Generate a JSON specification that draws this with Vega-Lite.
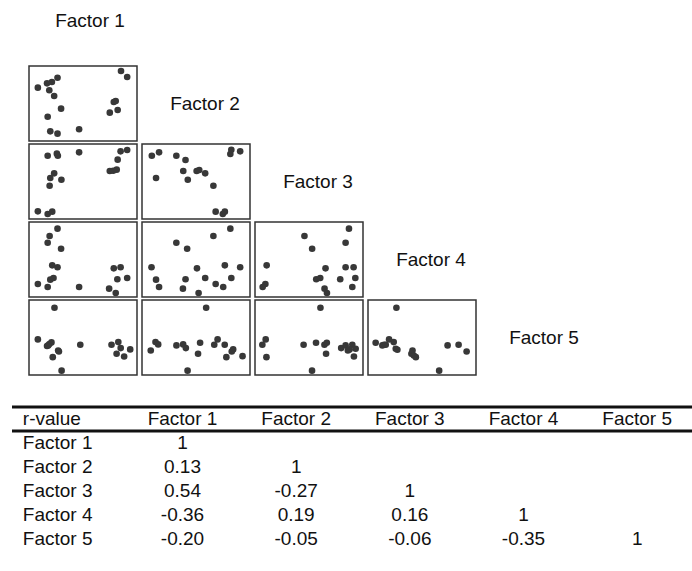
{
  "$schema": "https://vega.github.io/schema/vega-lite/v6.json",
  "padding": {"left": 10, "top": 3, "right": 0, "bottom": 0},
  "background": "white",
  "config": {"view": {"stroke": null}, "text": {"font": "Liberation Sans", "fontSize": 19, "color": "#111"}},
  "datasets": {
    "pts": [
      {"p":"2-1","x":85.2,"y":93.3},{"p":"2-1","x":90.9,"y":85.3},{"p":"2-1","x":8.2,"y":71.1},{"p":"2-1","x":16.7,"y":76.9},{"p":"2-1","x":21.2,"y":78.7},{"p":"2-1","x":26.4,"y":84.4},{"p":"2-1","x":18.8,"y":67.6},{"p":"2-1","x":23.3,"y":60.0},{"p":"2-1","x":29.7,"y":43.1},{"p":"2-1","x":17.3,"y":32.4},{"p":"2-1","x":19.7,"y":12.9},{"p":"2-1","x":26.4,"y":9.8},{"p":"2-1","x":46.4,"y":15.6},{"p":"2-1","x":78.5,"y":52.0},{"p":"2-1","x":80.3,"y":53.3},{"p":"2-1","x":74.8,"y":37.8},{"p":"2-1","x":82.1,"y":41.3},
      {"p":"3-1","x":17.3,"y":84.4},{"p":"3-1","x":25.8,"y":87.1},{"p":"3-1","x":26.7,"y":84.4},{"p":"3-1","x":46.4,"y":88.9},{"p":"3-1","x":84.8,"y":90.2},{"p":"3-1","x":90.9,"y":92.0},{"p":"3-1","x":82.1,"y":79.1},{"p":"3-1","x":74.8,"y":64.0},{"p":"3-1","x":77.9,"y":64.4},{"p":"3-1","x":81.2,"y":65.8},{"p":"3-1","x":23.3,"y":60.9},{"p":"3-1","x":19.7,"y":54.7},{"p":"3-1","x":30.0,"y":52.4},{"p":"3-1","x":19.1,"y":44.4},{"p":"3-1","x":8.2,"y":10.2},{"p":"3-1","x":17.3,"y":6.7},{"p":"3-1","x":21.5,"y":9.8},
      {"p":"3-2","x":9.1,"y":84.4},{"p":"3-2","x":15.8,"y":88.9},{"p":"3-2","x":31.8,"y":84.4},{"p":"3-2","x":40.3,"y":78.7},{"p":"3-2","x":38.2,"y":64.0},{"p":"3-2","x":50.6,"y":64.0},{"p":"3-2","x":53.0,"y":65.3},{"p":"3-2","x":58.5,"y":60.9},{"p":"3-2","x":42.4,"y":52.4},{"p":"3-2","x":13.0,"y":54.7},{"p":"3-2","x":66.1,"y":44.4},{"p":"3-2","x":82.7,"y":92.4},{"p":"3-2","x":81.8,"y":86.7},{"p":"3-2","x":90.9,"y":90.2},{"p":"3-2","x":68.2,"y":9.8},{"p":"3-2","x":74.8,"y":6.7},{"p":"3-2","x":76.7,"y":9.8},
      {"p":"4-1","x":26.4,"y":91.1},{"p":"4-1","x":19.1,"y":81.3},{"p":"4-1","x":17.3,"y":72.4},{"p":"4-1","x":29.7,"y":64.4},{"p":"4-1","x":21.5,"y":42.2},{"p":"4-1","x":26.4,"y":39.6},{"p":"4-1","x":78.5,"y":38.2},{"p":"4-1","x":84.8,"y":39.6},{"p":"4-1","x":81.8,"y":23.6},{"p":"4-1","x":90.9,"y":25.3},{"p":"4-1","x":19.7,"y":23.1},{"p":"4-1","x":22.7,"y":25.3},{"p":"4-1","x":8.2,"y":17.3},{"p":"4-1","x":17.3,"y":13.3},{"p":"4-1","x":46.4,"y":13.3},{"p":"4-1","x":74.2,"y":11.1},{"p":"4-1","x":80.3,"y":5.3},
      {"p":"4-2","x":81.8,"y":91.1},{"p":"4-2","x":66.1,"y":81.3},{"p":"4-2","x":31.8,"y":72.4},{"p":"4-2","x":41.8,"y":64.4},{"p":"4-2","x":8.8,"y":39.6},{"p":"4-2","x":50.9,"y":38.2},{"p":"4-2","x":76.7,"y":42.2},{"p":"4-2","x":90.9,"y":39.6},{"p":"4-2","x":13.0,"y":23.1},{"p":"4-2","x":15.8,"y":13.3},{"p":"4-2","x":40.3,"y":23.6},{"p":"4-2","x":58.5,"y":25.3},{"p":"4-2","x":82.7,"y":25.3},{"p":"4-2","x":68.2,"y":17.3},{"p":"4-2","x":75.2,"y":13.3},{"p":"4-2","x":37.9,"y":11.1},{"p":"4-2","x":52.4,"y":5.3},
      {"p":"4-3","x":87.0,"y":91.1},{"p":"4-3","x":45.8,"y":81.3},{"p":"4-3","x":83.9,"y":72.4},{"p":"4-3","x":52.9,"y":64.4},{"p":"4-3","x":10.8,"y":42.2},{"p":"4-3","x":83.9,"y":39.6},{"p":"4-3","x":65.3,"y":38.2},{"p":"4-3","x":91.3,"y":39.6},{"p":"4-3","x":56.7,"y":23.6},{"p":"4-3","x":60.4,"y":25.3},{"p":"4-3","x":78.9,"y":23.6},{"p":"4-3","x":92.9,"y":25.3},{"p":"4-3","x":9.6,"y":17.3},{"p":"4-3","x":7.1,"y":13.3},{"p":"4-3","x":90.1,"y":13.3},{"p":"4-3","x":64.4,"y":11.1},{"p":"4-3","x":66.6,"y":5.3},
      {"p":"5-1","x":23.6,"y":89.7},{"p":"5-1","x":8.2,"y":47.5},{"p":"5-1","x":16.7,"y":38.6},{"p":"5-1","x":18.9,"y":41.3},{"p":"5-1","x":20.8,"y":43.5},{"p":"5-1","x":17.8,"y":39.5},{"p":"5-1","x":27.0,"y":32.7},{"p":"5-1","x":27.7,"y":31.4},{"p":"5-1","x":22.0,"y":23.8},{"p":"5-1","x":30.2,"y":5.8},{"p":"5-1","x":47.5,"y":40.4},{"p":"5-1","x":76.4,"y":40.4},{"p":"5-1","x":82.7,"y":43.9},{"p":"5-1","x":84.9,"y":35.9},{"p":"5-1","x":81.1,"y":28.3},{"p":"5-1","x":88.1,"y":24.7},{"p":"5-1","x":93.7,"y":34.1},
      {"p":"5-2","x":59.4,"y":89.7},{"p":"5-2","x":12.5,"y":43.9},{"p":"5-2","x":15.0,"y":40.8},{"p":"5-2","x":8.1,"y":32.7},{"p":"5-2","x":31.9,"y":39.5},{"p":"5-2","x":38.1,"y":40.8},{"p":"5-2","x":40.6,"y":35.9},{"p":"5-2","x":53.8,"y":43.0},{"p":"5-2","x":51.9,"y":28.3},{"p":"5-2","x":70.0,"y":47.5},{"p":"5-2","x":66.9,"y":40.4},{"p":"5-2","x":76.6,"y":40.4},{"p":"5-2","x":84.4,"y":34.1},{"p":"5-2","x":83.1,"y":31.4},{"p":"5-2","x":78.1,"y":23.8},{"p":"5-2","x":93.1,"y":25.1},{"p":"5-2","x":42.2,"y":5.8},
      {"p":"5-3","x":60.6,"y":89.7},{"p":"5-3","x":9.9,"y":47.5},{"p":"5-3","x":6.8,"y":40.4},{"p":"5-3","x":10.6,"y":23.8},{"p":"5-3","x":45.0,"y":40.4},{"p":"5-3","x":56.5,"y":43.0},{"p":"5-3","x":64.3,"y":40.4},{"p":"5-3","x":66.5,"y":43.0},{"p":"5-3","x":65.8,"y":28.3},{"p":"5-3","x":52.8,"y":5.8},{"p":"5-3","x":79.8,"y":35.9},{"p":"5-3","x":83.9,"y":39.5},{"p":"5-3","x":86.0,"y":32.7},{"p":"5-3","x":90.1,"y":40.4},{"p":"5-3","x":87.6,"y":34.1},{"p":"5-3","x":93.2,"y":35.0},{"p":"5-3","x":91.6,"y":24.7},
      {"p":"5-4","x":26.3,"y":89.7},{"p":"5-4","x":7.1,"y":43.0},{"p":"5-4","x":13.3,"y":39.5},{"p":"5-4","x":14.9,"y":40.4},{"p":"5-4","x":19.5,"y":47.5},{"p":"5-4","x":23.8,"y":43.9},{"p":"5-4","x":25.7,"y":35.0},{"p":"5-4","x":27.2,"y":33.6},{"p":"5-4","x":41.2,"y":32.7},{"p":"5-4","x":40.2,"y":28.3},{"p":"5-4","x":42.4,"y":26.0},{"p":"5-4","x":44.3,"y":23.8},{"p":"5-4","x":73.7,"y":39.5},{"p":"5-4","x":83.9,"y":40.4},{"p":"5-4","x":91.3,"y":31.4},{"p":"5-4","x":65.9,"y":5.8},{"p":"5-4","x":16.4,"y":40.4}
    ],
    "tbl": [
      {"r":"h","c":"c0","t":"r-value"},{"r":"h","c":"c1","t":"Factor 1"},{"r":"h","c":"c2","t":"Factor 2"},{"r":"h","c":"c3","t":"Factor 3"},{"r":"h","c":"c4","t":"Factor 4"},{"r":"h","c":"c5","t":"Factor 5"},
      {"r":"1","c":"c0","t":"Factor 1"},{"r":"1","c":"c1","t":"1"},
      {"r":"2","c":"c0","t":"Factor 2"},{"r":"2","c":"c1","t":"0.13"},{"r":"2","c":"c2","t":"1"},
      {"r":"3","c":"c0","t":"Factor 3"},{"r":"3","c":"c1","t":"0.54"},{"r":"3","c":"c2","t":"-0.27"},{"r":"3","c":"c3","t":"1"},
      {"r":"4","c":"c0","t":"Factor 4"},{"r":"4","c":"c1","t":"-0.36"},{"r":"4","c":"c2","t":"0.19"},{"r":"4","c":"c3","t":"0.16"},{"r":"4","c":"c4","t":"1"},
      {"r":"5","c":"c0","t":"Factor 5"},{"r":"5","c":"c1","t":"-0.20"},{"r":"5","c":"c2","t":"-0.05"},{"r":"5","c":"c3","t":"-0.06"},{"r":"5","c":"c4","t":"-0.35"},{"r":"5","c":"c5","t":"1"}
    ],
    "lines": [{"r":"h"},{"r":"1"}]
  },
  "spacing": 29,
  "vconcat": [
    {
      "spacing": 1,
      "vconcat": [
        {"spacing": 3, "hconcat": [
          {"width": 13, "height": 61, "data": {"values": [{"t": ""}]}, "mark": "text", "encoding": {"text": {"field": "t"}}},
          {"width": 108, "height": 61, "data": {"values": [{"t": "Factor 1"}]}, "mark": {"type": "text", "dx": 8, "dy": -13}, "encoding": {"text": {"field": "t"}}}
        ]},
        {"spacing": 3, "hconcat": [
          {"width": 13, "height": 75, "data": {"values": [{"t": ""}]}, "mark": "text", "encoding": {"text": {"field": "t"}}},
          {"width": 108, "height": 75, "view": {"stroke": "#333", "strokeWidth": 1.5}, "data": {"name": "pts"}, "transform": [{"filter": "datum.p == '2-1'"}], "mark": {"type": "circle", "size": 44, "color": "#383838", "opacity": 1}, "encoding": {"x": {"field": "x", "type": "quantitative", "scale": {"domain": [0, 100], "nice": false, "zero": false}, "axis": null}, "y": {"field": "y", "type": "quantitative", "scale": {"domain": [0, 100], "nice": false, "zero": false}, "axis": null}}},
          {"width": 108, "height": 75, "data": {"values": [{"t": "Factor 2"}]}, "mark": {"type": "text", "dx": 10}, "encoding": {"text": {"field": "t"}}}
        ]},
        {"spacing": 3, "hconcat": [
          {"width": 13, "height": 75, "data": {"values": [{"t": ""}]}, "mark": "text", "encoding": {"text": {"field": "t"}}},
          {"width": 108, "height": 75, "view": {"stroke": "#333", "strokeWidth": 1.5}, "data": {"name": "pts"}, "transform": [{"filter": "datum.p == '3-1'"}], "mark": {"type": "circle", "size": 44, "color": "#383838", "opacity": 1}, "encoding": {"x": {"field": "x", "type": "quantitative", "scale": {"domain": [0, 100], "nice": false, "zero": false}, "axis": null}, "y": {"field": "y", "type": "quantitative", "scale": {"domain": [0, 100], "nice": false, "zero": false}, "axis": null}}},
          {"width": 108, "height": 75, "view": {"stroke": "#333", "strokeWidth": 1.5}, "data": {"name": "pts"}, "transform": [{"filter": "datum.p == '3-2'"}], "mark": {"type": "circle", "size": 44, "color": "#383838", "opacity": 1}, "encoding": {"x": {"field": "x", "type": "quantitative", "scale": {"domain": [0, 100], "nice": false, "zero": false}, "axis": null}, "y": {"field": "y", "type": "quantitative", "scale": {"domain": [0, 100], "nice": false, "zero": false}, "axis": null}}},
          {"width": 108, "height": 75, "data": {"values": [{"t": "Factor 3"}]}, "mark": {"type": "text", "dx": 10}, "encoding": {"text": {"field": "t"}}}
        ]},
        {"spacing": 3, "hconcat": [
          {"width": 13, "height": 75, "data": {"values": [{"t": ""}]}, "mark": "text", "encoding": {"text": {"field": "t"}}},
          {"width": 108, "height": 75, "view": {"stroke": "#333", "strokeWidth": 1.5}, "data": {"name": "pts"}, "transform": [{"filter": "datum.p == '4-1'"}], "mark": {"type": "circle", "size": 44, "color": "#383838", "opacity": 1}, "encoding": {"x": {"field": "x", "type": "quantitative", "scale": {"domain": [0, 100], "nice": false, "zero": false}, "axis": null}, "y": {"field": "y", "type": "quantitative", "scale": {"domain": [0, 100], "nice": false, "zero": false}, "axis": null}}},
          {"width": 108, "height": 75, "view": {"stroke": "#333", "strokeWidth": 1.5}, "data": {"name": "pts"}, "transform": [{"filter": "datum.p == '4-2'"}], "mark": {"type": "circle", "size": 44, "color": "#383838", "opacity": 1}, "encoding": {"x": {"field": "x", "type": "quantitative", "scale": {"domain": [0, 100], "nice": false, "zero": false}, "axis": null}, "y": {"field": "y", "type": "quantitative", "scale": {"domain": [0, 100], "nice": false, "zero": false}, "axis": null}}},
          {"width": 108, "height": 75, "view": {"stroke": "#333", "strokeWidth": 1.5}, "data": {"name": "pts"}, "transform": [{"filter": "datum.p == '4-3'"}], "mark": {"type": "circle", "size": 44, "color": "#383838", "opacity": 1}, "encoding": {"x": {"field": "x", "type": "quantitative", "scale": {"domain": [0, 100], "nice": false, "zero": false}, "axis": null}, "y": {"field": "y", "type": "quantitative", "scale": {"domain": [0, 100], "nice": false, "zero": false}, "axis": null}}},
          {"width": 108, "height": 75, "data": {"values": [{"t": "Factor 4"}]}, "mark": {"type": "text", "dx": 10}, "encoding": {"text": {"field": "t"}}}
        ]},
        {"spacing": 3, "hconcat": [
          {"width": 13, "height": 75, "data": {"values": [{"t": ""}]}, "mark": "text", "encoding": {"text": {"field": "t"}}},
          {"width": 108, "height": 75, "view": {"stroke": "#333", "strokeWidth": 1.5}, "data": {"name": "pts"}, "transform": [{"filter": "datum.p == '5-1'"}], "mark": {"type": "circle", "size": 44, "color": "#383838", "opacity": 1}, "encoding": {"x": {"field": "x", "type": "quantitative", "scale": {"domain": [0, 100], "nice": false, "zero": false}, "axis": null}, "y": {"field": "y", "type": "quantitative", "scale": {"domain": [0, 100], "nice": false, "zero": false}, "axis": null}}},
          {"width": 108, "height": 75, "view": {"stroke": "#333", "strokeWidth": 1.5}, "data": {"name": "pts"}, "transform": [{"filter": "datum.p == '5-2'"}], "mark": {"type": "circle", "size": 44, "color": "#383838", "opacity": 1}, "encoding": {"x": {"field": "x", "type": "quantitative", "scale": {"domain": [0, 100], "nice": false, "zero": false}, "axis": null}, "y": {"field": "y", "type": "quantitative", "scale": {"domain": [0, 100], "nice": false, "zero": false}, "axis": null}}},
          {"width": 108, "height": 75, "view": {"stroke": "#333", "strokeWidth": 1.5}, "data": {"name": "pts"}, "transform": [{"filter": "datum.p == '5-3'"}], "mark": {"type": "circle", "size": 44, "color": "#383838", "opacity": 1}, "encoding": {"x": {"field": "x", "type": "quantitative", "scale": {"domain": [0, 100], "nice": false, "zero": false}, "axis": null}, "y": {"field": "y", "type": "quantitative", "scale": {"domain": [0, 100], "nice": false, "zero": false}, "axis": null}}},
          {"width": 108, "height": 75, "view": {"stroke": "#333", "strokeWidth": 1.5}, "data": {"name": "pts"}, "transform": [{"filter": "datum.p == '5-4'"}], "mark": {"type": "circle", "size": 44, "color": "#383838", "opacity": 1}, "encoding": {"x": {"field": "x", "type": "quantitative", "scale": {"domain": [0, 100], "nice": false, "zero": false}, "axis": null}, "y": {"field": "y", "type": "quantitative", "scale": {"domain": [0, 100], "nice": false, "zero": false}, "axis": null}}},
          {"width": 108, "height": 75, "data": {"values": [{"t": "Factor 5"}]}, "mark": {"type": "text", "dx": 10}, "encoding": {"text": {"field": "t"}}}
        ]}
      ]
    },
    {
      "width": 682,
      "height": 144,
      "layer": [
        {
          "data": {"name": "tbl"},
          "transform": [{"filter": "datum.c != 'c0'"}],
          "mark": {"type": "text"},
          "encoding": {
            "x": {"field": "c", "type": "ordinal", "scale": {"type": "point", "padding": 0.5, "domain": ["c0","c1","c2","c3","c4","c5"]}, "axis": null},
            "y": {"field": "r", "type": "ordinal", "bandPosition": 0.5, "scale": {"type": "band", "paddingInner": 0, "paddingOuter": 0, "domain": ["h","1","2","3","4","5"]}, "axis": null},
            "text": {"field": "t"}
          }
        },
        {
          "data": {"name": "tbl"},
          "transform": [{"filter": "datum.c == 'c0'"}],
          "mark": {"type": "text", "align": "left", "dx": -46},
          "encoding": {
            "x": {"field": "c", "type": "ordinal", "axis": null},
            "y": {"field": "r", "type": "ordinal", "bandPosition": 0.5, "axis": null},
            "text": {"field": "t"}
          }
        },
        {
          "data": {"name": "lines"},
          "mark": {"type": "rule", "strokeWidth": 3, "color": "#111"},
          "encoding": {
            "y": {"field": "r", "type": "ordinal", "bandPosition": 0, "axis": null}
          }
        }
      ]
    }
  ]
}
